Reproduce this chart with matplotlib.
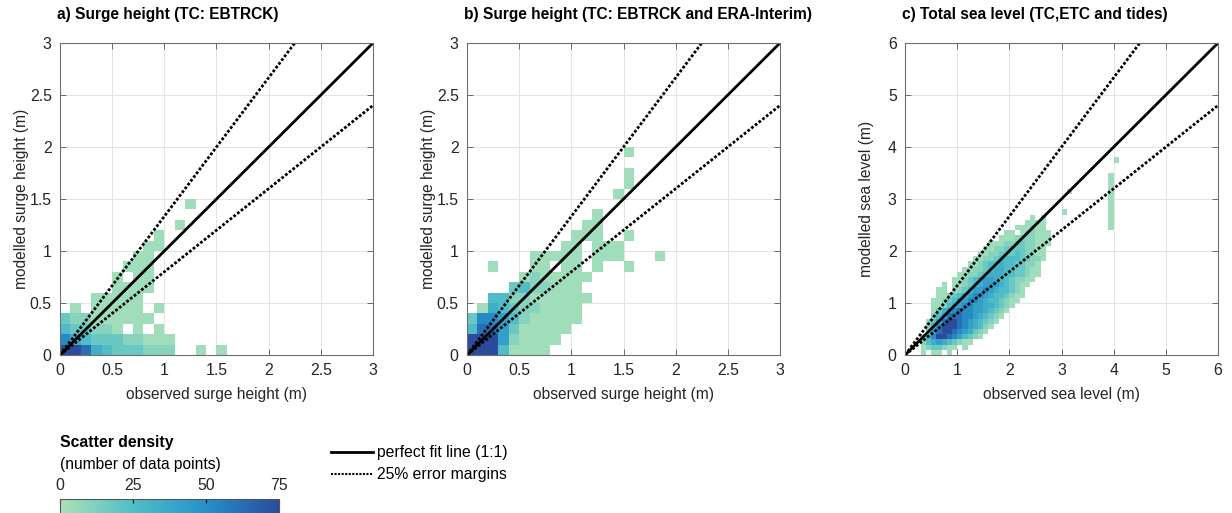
import matplotlib.pyplot as plt
import numpy as np
from matplotlib.colors import LinearSegmentedColormap
from matplotlib.lines import Line2D

plt.rcParams['font.family'] = ['Liberation Sans', 'DejaVu Sans']

W, H = 1232, 513

# count represented by each grid character
levels = {'.': 0, '1': 3, '2': 10, '3': 18, '4': 26, '5': 34,
          '6': 42, '7': 52, '8': 62, '9': 75}

# 2D histograms, 0.1 m bins, row 0 = lowest bin (0-0.1 m)
grid_a = [
    "99854333222..1.1",
    "75433322111",
    "433221.1.1",
    "322111111",
    ".1.11111.1",
    "...11111",
    ".....1111",
    ".....1.11",
    "......111",
    ".......11",
    "........11",
    ".........1",
    "...........1",
    "",
    "............1",
]

grid_b = [
    "99941111",
    "999621111",
    "4886311111",
    "37764211111",
    ".1543221111",
    "..4422111111",
    "....3422111",
    ".....1211111",
    "..1...11.11.1..1",
    "......11111.111...1",
    ".........11.111",
    "..........111..1",
    "...........11",
    "............1",
    "",
    "..............1",
    "...............1",
    "...............1",
    "",
    "...............1",
]

grid_c = [
    "...1.11.1",
    "...1233211.1",
    "...2456543211",
    "...147998764321",
    "....368998765321",
    "....2579998765421",
    "....14689987654321",
    ".....24688877654321",
    ".....135678776654321",
    ".....1124567766554321",
    ".....11234667765443211",
    "......11234567765443211",
    "......11.12346676544321",
    ".......1.112345666543211",
    ".........1123456654432211",
    "..........1122345554433211",
    "...........112234554433211",
    "............11234454433221",
    ".............11223444433221",
    "..............1122333432211",
    "...............112233332211",
    "................111223322111",
    "..................1112222111",
    "...................11.122111",
    "." * 21 + "111211" + "." * 12 + "1",
    "." * 23 + "1111" + "." * 12 + "1",
    "." * 24 + "1.1" + "." * 12 + "1",
    "." * 30 + "1" + "." * 8 + "1",
    "." * 39 + "1",
    "." * 39 + "1",
    "." * 39 + "1",
    "." * 31 + "1" + "." * 7 + "1",
    "." * 39 + "1",
    "." * 39 + "1",
    "." * 39 + "1",
    "",
    "",
    "." * 40 + "1",
]

cbar_ticks = [0, 25, 50, 75]

titles = ["a) Surge height (TC: EBTRCK)",
          "b) Surge height (TC: EBTRCK and ERA-Interim)",
          "c) Total sea level (TC,ETC and tides)"]
xlabels = ["observed surge height (m)", "observed surge height (m)", "observed sea level (m)"]
ylabels = ["modelled surge height (m)", "modelled surge height (m)", "modelled sea level (m)"]
limits = [3, 3, 6]
tick_sets = [[0, 0.5, 1, 1.5, 2, 2.5, 3], [0, 0.5, 1, 1.5, 2, 2.5, 3], [0, 1, 2, 3, 4, 5, 6]]
tick_labels = [["0", "0.5", "1", "1.5", "2", "2.5", "3"],
               ["0", "0.5", "1", "1.5", "2", "2.5", "3"],
               ["0", "1", "2", "3", "4", "5", "6"]]

cmap = LinearSegmentedColormap.from_list(
    "dens", [(0, "#abe1b8"), (0.33, "#52bec7"), (0.67, "#2690c8"), (1, "#2b4c9c")])


def to_counts(rows, n):
    arr = np.zeros((n, n))
    for j, row in enumerate(rows):
        for i, ch in enumerate(row):
            arr[j, i] = levels[ch]
    return np.ma.masked_equal(arr, 0)


fig = plt.figure(figsize=(W / 100, H / 100), dpi=100)

lefts = [60, 467, 905]
grids = [grid_a, grid_b, grid_c]
for k in range(3):
    ax = fig.add_axes([lefts[k] / W, (H - 355) / H, 313 / W, 312 / H])
    lim = limits[k]
    n = int(round(lim * 10))
    edges = np.linspace(0, lim, n + 1)
    ax.pcolormesh(edges, edges, to_counts(grids[k], n), cmap=cmap, vmin=0, vmax=75)
    x = np.array([0, lim])
    ax.plot(x, x, color='black', lw=2)
    ax.plot(x, x / 0.75, color='black', lw=2, linestyle=(0, (1.0, 0.7)))
    ax.plot(x, x * 0.8, color='black', lw=2, linestyle=(0, (1.0, 0.7)))
    ax.set_xlim(0, lim)
    ax.set_ylim(0, lim)
    ax.set_xticks(tick_sets[k])
    ax.set_yticks(tick_sets[k])
    ax.set_xticklabels(tick_labels[k])
    ax.set_yticklabels(tick_labels[k])
    ax.tick_params(direction='in', length=4, width=0.6, labelsize=11.4,
                   colors='#555555', labelcolor='#262626', pad=6, top=True, right=True,
                   labeltop=False, labelright=False)
    ax.grid(True, color='#e3e3e3', lw=0.7)
    ax.set_axisbelow(True)
    for s in ax.spines.values():
        s.set_color('#6e6e6e')
        s.set_linewidth(0.8)
    fig.text((lefts[k] - 3) / W, 1 - 15 / H, titles[k], fontsize=11.2,
             fontweight='bold', ha='left', va='center')
    fig.text((lefts[k] + 156) / W, 1 - 395 / H, xlabels[k], fontsize=11.2,
             color='#262626', ha='center', va='center')
    fig.text((lefts[k] - 38) / W, 1 - 199 / H, ylabels[k], fontsize=11.2,
             color='#262626', ha='center', va='center', rotation=90)

# colour bar, cut off by the lower edge of the figure
cax = fig.add_axes([60 / W, -0.06, 219 / W, (513 - 499) / H + 0.06])
sm = plt.cm.ScalarMappable(cmap=cmap, norm=plt.Normalize(0, 75))
cb = fig.colorbar(sm, cax=cax, orientation='horizontal', ticks=cbar_ticks)
cax.xaxis.set_ticks_position('top')
cax.xaxis.set_label_position('top')
cax.tick_params(direction='in', length=3, labelsize=11.4, pad=4, labelcolor='#262626')
cb.outline.set_edgecolor('#555555')
fig.text(60 / W, 1 - 443 / H, "Scatter density", fontsize=11.3, fontweight='bold', va='center')
fig.text(60 / W, 1 - 465 / H, "(number of data points)", fontsize=11.2, va='center')

handles = [Line2D([0], [0], color='black', lw=2),
           Line2D([0], [0], color='black', lw=1.5, linestyle=(0, (1, 0.7)))]
fig.legend(handles, ["perfect fit line (1:1)", "25% error margins"],
           loc='upper left', bbox_to_anchor=(331 / W, 1 - 445 / H), frameon=False,
           fontsize=11.3, handlelength=2.7, handletextpad=0.2, labelspacing=0.45,
           borderaxespad=0, borderpad=0)

fig.savefig("out.png", dpi=100)
